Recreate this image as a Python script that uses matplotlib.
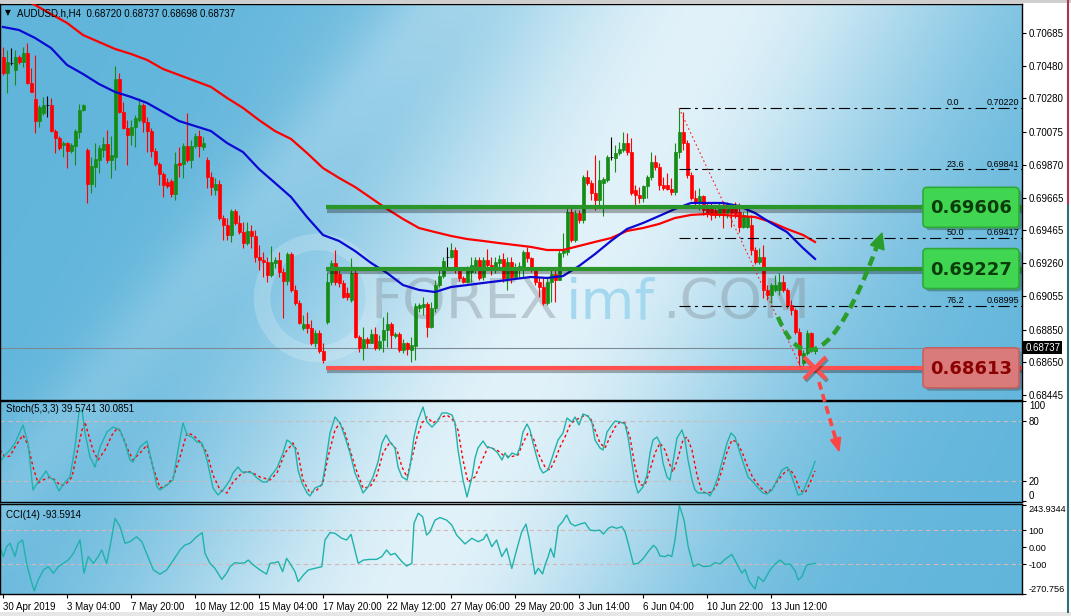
import numpy as np
import matplotlib
matplotlib.use('Agg')
import matplotlib.pyplot as plt
import matplotlib.patheffects as pe
from matplotlib.patches import FancyBboxPatch, Polygon, Rectangle, Circle, PathPatch
from matplotlib.path import Path

plt.rcParams['font.family'] = ['Liberation Sans', 'DejaVu Sans']

# ---- AUDUSD H4 candles, prices in points (1 point = 0.00001) ----
opens = [70536, 70437, 70499, 70456, 70536, 70505, 70561, 70375, 70276, 70140,
         70190, 70239, 70239, 70078, 70035, 69992, 70004, 69955, 69986, 70072,
         70208, 69961, 69750, 69856, 69899, 69961, 69998, 69899, 69918, 70400,
         70196, 70097, 70054, 70103, 70146, 70239, 70134, 70078, 69955, 69874,
         69812, 69763, 69769, 69688, 69880, 69874, 69986, 69899, 69986, 70047,
         69979, 69899, 69794, 69713, 69750, 69540, 69497, 69435, 69583, 69509,
         69453, 69385, 69460, 69429, 69299, 69280, 69268, 69188, 69262, 69280,
         69206, 69150, 69317, 69095, 69014, 68859, 68884, 68859, 68767, 68828,
         68717, 68896, 69144, 69262, 69194, 69138, 69076, 69033, 69200, 68804,
         68736, 68791, 68767, 68822, 68736, 68785, 68847, 68884, 68810, 68822,
         68723, 68767, 68723, 68748, 68983, 68989, 69008, 68866, 68983, 69125,
         69181, 69299, 69299, 69342, 69218, 69169, 69144, 69206, 69237, 69280,
         69175, 69280, 69249, 69237, 69262, 69287, 69169, 69268, 69175, 69231,
         69237, 69330, 69293, 69237, 69144, 69113, 69014, 69144, 69194, 69157,
         69324, 69330, 69577, 69404, 69571, 69528, 69794, 69757, 69695, 69651,
         69757, 69775, 69918, 69911, 69942, 69961, 70004, 69948, 69713, 69682,
         69664, 69738, 69794, 69887, 69856, 69744, 69744, 69719, 69701, 69948,
         70072, 70004, 69806, 69664, 69633, 69676, 69602, 69602, 69589, 69559,
         69602, 69571, 69602, 69608, 69577, 69484, 69484, 69497, 69342, 69268,
         69299, 69095, 69064, 69095, 69095, 69144, 69095, 69002, 68971, 68835,
         68643, 68705, 68828, 68720]
highs = [70598, 70580, 70592, 70580, 70549, 70598, 70623, 70468, 70549, 70239,
         70289, 70295, 70283, 70091, 70047, 70017, 70010, 70004, 70091, 70245,
         70245, 69973, 69918, 70004, 69992, 70041, 70085, 70047, 70481, 70437,
         70258, 70146, 70146, 70177, 70283, 70252, 70165, 70097, 69973, 69887,
         69825, 69787, 69781, 69948, 69979, 70004, 70190, 70023, 70066, 70085,
         70041, 69918, 69825, 69787, 69775, 69559, 69540, 69596, 69596, 69559,
         69515, 69515, 69497, 69466, 69373, 69330, 69299, 69367, 69299, 69330,
         69231, 69330, 69330, 69125, 69033, 68940, 68958, 68909, 68847, 68847,
         68767, 69200, 69280, 69342, 69231, 69157, 69113, 69293, 69218, 68816,
         68866, 68804, 68853, 68866, 68816, 68927, 68958, 68896, 68835, 68835,
         68791, 68773, 68804, 69014, 69014, 69051, 69020, 69020, 69157, 69237,
         69299, 69361, 69385, 69361, 69231, 69181, 69243, 69299, 69299, 69299,
         69299, 69348, 69299, 69299, 69311, 69324, 69299, 69299, 69262, 69268,
         69342, 69361, 69299, 69237, 69175, 69169, 69169, 69218, 69218, 69342,
         69447, 69602, 69602, 69589, 69589, 69806, 69837, 69775, 69930, 69899,
         69794, 69930, 70041, 69992, 70010, 70072, 70066, 70035, 69744, 69732,
         69744, 69806, 69948, 69930, 69880, 69794, 69818, 69787, 70004, 70220,
         70196, 70023, 69825, 69713, 69726, 69682, 69633, 69633, 69620, 69639,
         69639, 69639, 69620, 69639, 69633, 69577, 69602, 69559, 69361, 69355,
         69373, 69125, 69138, 69188, 69200, 69188, 69107, 69033, 68983, 68859,
         68723, 68847, 68835, 68737]
lows = [70425, 70314, 70487, 70363, 70493, 70474, 70369, 70320, 70066, 70103,
        70177, 70165, 70072, 69942, 69961, 69918, 69849, 69942, 69868, 70035,
        70202, 69633, 69695, 69732, 69818, 69918, 69880, 69787, 69837, 70190,
        70091, 69868, 69992, 69979, 70134, 70072, 69948, 69918, 69862, 69744,
        69670, 69726, 69670, 69651, 69794, 69787, 69887, 69849, 69973, 69918,
        69961, 69726, 69682, 69682, 69528, 69404, 69404, 69392, 69497, 69441,
        69355, 69373, 69355, 69268, 69218, 69175, 69144, 69175, 69231, 69175,
        68921, 69125, 69082, 69002, 68884, 68847, 68828, 68754, 68742, 68705,
        68643, 68884, 69125, 69125, 69113, 69045, 69033, 69020, 68797, 68711,
        68661, 68736, 68767, 68723, 68723, 68711, 68742, 68736, 68797, 68711,
        68705, 68692, 68649, 68661, 68958, 68940, 68804, 68859, 68958, 69113,
        69169, 69237, 69293, 69200, 69150, 69138, 69138, 69144, 69200, 69157,
        69157, 69237, 69188, 69200, 69218, 69144, 69095, 69138, 69175, 69175,
        69175, 69268, 69206, 69125, 69051, 69002, 69002, 69020, 69020, 69157,
        69299, 69311, 69392, 69392, 69509, 69509, 69744, 69651, 69589, 69608,
        69552, 69763, 69899, 69825, 69930, 69948, 69930, 69682, 69620, 69633,
        69639, 69664, 69775, 69837, 69713, 69713, 69713, 69682, 69682, 69911,
        69961, 69787, 69651, 69608, 69589, 69559, 69546, 69528, 69540, 69546,
        69478, 69540, 69484, 69540, 69453, 69478, 69478, 69311, 69256, 69256,
        69045, 69033, 69014, 69082, 69064, 69082, 68983, 68940, 68822, 68630,
        68613, 68692, 68711, 68698]
closes = [70437, 70505, 70499, 70536, 70505, 70561, 70375, 70320, 70140, 70227,
          70239, 70239, 70078, 70035, 69973, 70004, 69955, 69992, 70078, 70208,
          70239, 69750, 69862, 69905, 69973, 69998, 69899, 69930, 70400, 70196,
          70097, 70054, 70103, 70159, 70239, 70134, 70078, 69955, 69874, 69812,
          69744, 69738, 69688, 69874, 69868, 69986, 69899, 69986, 70047, 69986,
          70004, 69794, 69732, 69750, 69540, 69497, 69435, 69583, 69509, 69453,
          69385, 69460, 69429, 69299, 69280, 69268, 69188, 69268, 69280, 69206,
          69150, 69317, 69095, 69014, 68890, 68884, 68859, 68767, 68828, 68717,
          68661, 69144, 69262, 69144, 69138, 69051, 69051, 69200, 68804, 68736,
          68791, 68767, 68822, 68736, 68779, 68847, 68884, 68816, 68822, 68723,
          68767, 68729, 68754, 68996, 69002, 69008, 68866, 68983, 69125, 69181,
          69274, 69299, 69342, 69218, 69169, 69144, 69218, 69249, 69280, 69169,
          69280, 69249, 69237, 69268, 69287, 69169, 69268, 69175, 69231, 69243,
          69330, 69293, 69237, 69144, 69113, 69014, 69144, 69194, 69157, 69324,
          69342, 69577, 69404, 69571, 69528, 69794, 69757, 69695, 69651, 69775,
          69781, 69918, 69918, 69942, 69967, 70004, 69948, 69695, 69682, 69664,
          69738, 69794, 69887, 69856, 69744, 69726, 69719, 69701, 69948, 70072,
          70004, 69806, 69664, 69633, 69676, 69589, 69571, 69559, 69559, 69602,
          69571, 69602, 69571, 69565, 69484, 69559, 69552, 69342, 69268, 69299,
          69095, 69064, 69125, 69125, 69144, 69095, 69002, 68971, 68835, 68692,
          68705, 68828, 68723, 68737]

# moving averages read every 4 bars (points)
ma_bars = list(range(0, 201, 4)) + [203]
ma_blue = [70722, 70703, 70654, 70592, 70487, 70431, 70369, 70320, 70289, 70252,
           70196, 70140, 70109, 70078, 70004, 69948, 69843, 69757, 69670, 69546,
           69435, 69398, 69336, 69262, 69200, 69125, 69095, 69082, 69113, 69125,
           69138, 69150, 69163, 69175, 69169, 69181, 69243, 69317, 69398, 69472,
           69509, 69552, 69596, 69633, 69633, 69633, 69614, 69571, 69509, 69453,
           69354, 69287]
ma_red = [70963, 70908, 70858, 70802, 70747, 70672, 70629, 70586, 70555, 70518,
          70462, 70425, 70388, 70351, 70283, 70221, 70146, 70078, 70029, 69942,
          69849, 69788, 69732, 69664, 69596, 69534, 69478, 69453, 69429, 69410,
          69398, 69385, 69373, 69361, 69342, 69342, 69367, 69392, 69416, 69460,
          69478, 69503, 69540, 69559, 69565, 69559, 69552, 69546, 69515, 69472,
          69435, 69392]

# Stochastic (bar, value)
stoch_main = [(-0.75, 39), (0.5, 46), (1.75, 51), (3, 58), (5, 76), (6.25, 58), (7.5, 11), (8.75, 19),
              (9.75, 24), (10.75, 30), (11.75, 23), (12.75, 21), (14, 10), (15.5, 19), (16.75, 24),
              (18, 54), (19, 89), (19.75, 91), (20.5, 68), (21.75, 44), (23, 34), (24.25, 54), (26, 69),
              (27.5, 74), (29.25, 71), (30.5, 58), (31.75, 41), (32.5, 39), (34.25, 54), (36, 60),
              (37.25, 38), (38.5, 14), (39.25, 11), (41, 16), (42.5, 21), (43.75, 51), (45, 78), (46, 66),
              (47.25, 64), (48.5, 59), (49.75, 58), (51, 41), (52.5, 13), (53.75, 6), (55, 11),
              (56.75, 21), (57.5, 28), (58.75, 34), (59.75, 29), (61, 29), (62.25, 28), (63.5, 23),
              (65, 19), (66, 19), (66.75, 24), (68.5, 33), (70, 48), (71, 61), (71.75, 59), (73, 53),
              (73.75, 31), (74.75, 18), (76, 8), (76.75, 5), (78, 13), (79.75, 16), (80.5, 34),
              (81.75, 68), (83, 84), (84.25, 78), (85.5, 64), (86.75, 48), (88, 28), (89.25, 16), (90, 8),
              (91.25, 14), (92.5, 24), (93.75, 39), (94.75, 58), (95.75, 66), (96.75, 59), (98, 53),
              (98.75, 34), (99.75, 24), (101, 21), (101.75, 34), (102.75, 64), (103.75, 81), (105, 94),
              (106, 79), (107.25, 74), (108.5, 79), (109.75, 88), (111, 88), (112.25, 86), (113, 78),
              (113.75, 51), (115, 21), (116, 4), (117.25, 24), (118, 43), (118.75, 53), (120, 60),
              (121, 54), (122.25, 53), (123.5, 49), (124.75, 41), (125.5, 48), (126.25, 43),
              (127.25, 48), (128.5, 46), (129.25, 54), (130, 69), (131, 77), (131.75, 71), (132.5, 58),
              (133.5, 43), (134.25, 33), (135, 28), (136.25, 31), (137.5, 46), (138.75, 61), (140, 68),
              (141, 83), (142.25, 79), (143, 84), (144, 76), (145, 87), (146.25, 85), (147.25, 78),
              (148, 61), (149.25, 53), (150, 51), (151, 69), (152.25, 76), (153, 80), (154.25, 79),
              (155.5, 77), (156.25, 64), (157.25, 38), (158, 18), (158.75, 8), (160, 14), (161, 26),
              (161.75, 48), (162.5, 61), (163.5, 64), (164.25, 58), (165, 38), (166, 24), (166.75, 21),
              (167.5, 39), (168.5, 63), (169.75, 71), (170.5, 61), (171.25, 41), (172.25, 21), (173, 11),
              (173.75, 8), (175, 8), (176, 8), (176.75, 5), (177.5, 11), (178.75, 24), (180, 43),
              (181, 58), (182, 68), (183, 64), (184.25, 48), (185.5, 33), (186.25, 24), (187.5, 19),
              (188.75, 13), (190, 8), (191, 7), (192.25, 11), (193.5, 21), (194.75, 31), (196, 34),
              (196.75, 29), (197.5, 21), (198.75, 6), (199.75, 7), (201, 19), (202.25, 31), (203, 39.5741)]
stoch_signal = [(-0.75, 51), (0.5, 44), (1.75, 45), (3, 54), (5, 66), (6.25, 56), (7.5, 34), (8.75, 18),
                (10, 21), (11.75, 24), (13, 21), (14.25, 16), (15.5, 16), (17.25, 24), (18.5, 48),
                (19.75, 71), (20.5, 79), (21.25, 68), (22.5, 51), (23.75, 41), (25.5, 51), (27.5, 68),
                (28.75, 73), (30, 64), (31.25, 51), (32.5, 41), (34.25, 48), (36, 56), (37.5, 34),
                (39.25, 13), (41, 16), (42.5, 23), (44.25, 44), (46, 68), (47.5, 66), (49.25, 59),
                (51, 48), (52.5, 26), (54.25, 11), (56, 8), (57.5, 19), (59.25, 26), (61, 30), (62.5, 28),
                (64.25, 24), (66, 22), (66.75, 21), (68.5, 28), (70.5, 48), (72.5, 58), (73.75, 48),
                (75, 21), (76.75, 8), (78.5, 11), (80, 18), (81.25, 44), (83, 71), (84.25, 78), (85.5, 68),
                (86.75, 51), (88.5, 29), (90, 13), (91.75, 14), (93.5, 26), (95, 48), (96.75, 59),
                (98.5, 51), (99.75, 34), (101, 24), (102.25, 43), (103.5, 64), (104.75, 78), (106, 84),
                (107.5, 78), (109.25, 83), (111, 86), (112.5, 81), (113.75, 71), (115, 41), (116.25, 19),
                (118, 24), (119.25, 36), (121.25, 54), (123.5, 51), (125, 46), (126.75, 44), (128.75, 46),
                (130, 58), (131.25, 68), (132.5, 64), (133.75, 48), (135.5, 34), (136.75, 31), (138, 41),
                (139.25, 54), (140.5, 64), (141.75, 76), (143, 81), (144.25, 83), (145.5, 86),
                (146.75, 84), (148, 71), (149.25, 58), (150.5, 53), (151.75, 64), (153, 74), (154.25, 79),
                (155.5, 78), (156.75, 64), (158, 34), (159.25, 16), (160.5, 16), (161.75, 31), (163, 48),
                (164.25, 58), (165.5, 51), (166.75, 36), (167.5, 29), (168.75, 43), (170, 61), (171, 64),
                (172.25, 51), (173.5, 26), (174.75, 9), (176, 8), (177.25, 9), (178.5, 16), (179.75, 31),
                (181, 49), (182.25, 61), (183.5, 59), (184.75, 49), (186, 36), (187.5, 23), (189.25, 14),
                (191, 8), (192.5, 13), (193.75, 21), (195.5, 29), (196.75, 32), (198, 24), (199.25, 11),
                (200.5, 8), (201.75, 18), (202.75, 28), (203, 30.0851)]

# CCI(14) (bar, value)
cci = [(-0.75, 3), (0.1, -55), (0.9, 3), (1.75, 23), (3, -55), (3.8, 23), (4.9, 42), (5.9, -95),
       (6.75, -172), (7.8, -255), (8.8, -191), (10.1, -133), (11.3, -114), (12.6, -152), (13.8, -114),
       (15.1, -94), (16.3, -75), (17.6, -36), (19.25, 42), (20.25, -152), (21.3, -55), (22.6, -94),
       (23.8, -55), (24.7, -16), (25.9, -94), (26.75, 3), (28, 168), (29.25, 120), (30.5, 23),
       (31.75, 32), (33.4, 61), (34.7, 32), (35.9, -36), (37.6, -133), (39.25, -157), (40.9, -133),
       (42.6, -75), (44.25, -16), (45.5, 13), (46.75, 23), (48.4, 61), (49.8, 85), (50.5, -36),
       (51.75, -94), (53, -124), (54.7, -188), (55.9, -152), (56.75, -114), (58, -90), (59.25, -94),
       (60.5, -90), (61.3, -75), (62.6, -104), (64.25, -133), (65.9, -157), (66.75, -94), (68, -90),
       (68.8, -84), (69.9, -143), (70.9, -65), (71.75, -94), (73, -143), (73.8, -201), (75.1, -162),
       (76.3, -133), (78, -123), (79.7, -114), (80.5, 42), (81.75, 85), (83, 81), (84.7, 52),
       (85.9, 42), (87, 75), (88.8, -94), (90.1, -75), (91.75, -71), (93.4, -71), (94.7, -55),
       (95.9, -16), (96.9, -45), (98, -36), (99.7, -84), (100.9, -110), (102.2, -94), (102.75, 139),
       (103.8, 198), (104.9, 178), (105.9, 71), (106.75, 90), (108, 158), (109.25, 173), (110.9, 158),
       (112.2, 129), (113.4, 71), (115.5, 19), (117.2, 52), (118.8, 32), (120.1, 46), (120.9, 77),
       (122.2, 3), (123.4, 42), (124.7, -55), (125.9, -7), (127.2, -124), (128.4, -16), (129.7, 91),
       (130.75, 135), (131.6, 42), (133, -158), (133.8, -123), (134.9, -156), (135.5, -104),
       (136.3, -55), (136.9, -7), (137.75, -59), (138.8, 120), (139.9, 149), (140.9, 188),
       (141.9, 139), (143, 124), (144.25, 135), (145.5, 143), (146.75, 100), (148, 96), (149.1, 100),
       (150.1, 77), (151.3, 110), (152.2, 120), (153.4, 110), (154.7, 120), (155.5, 91), (156.3, 23),
       (157.6, -99), (158.8, -94), (160.1, -65), (161.3, -26), (162.6, 11), (163.4, -7),
       (164.25, -51), (165.5, -55), (166.3, -45), (167.2, -55), (168, 42), (169.1, 243.9),
       (170.25, 159), (171.3, 3), (172.6, -113), (173.8, -98), (175.1, -113), (176.75, -110),
       (178, -90), (179.25, -98), (180.5, -71), (182.2, -42), (183.4, -94), (184.7, -152),
       (185.5, -129), (186.6, -201), (188, -244), (188.8, -172), (190.1, -201), (191.75, -133),
       (193, -98), (194.25, -75), (195.5, -100), (196.75, -98), (198, -137), (198.8, -191),
       (199.7, -172), (200.9, -104), (202.2, -98), (203, -93.5914)]

green_levels = [0.69606, 0.69227]
red_level = 0.68613
fib_pct = ['0.0', '23.6', '50.0', '76.2']
fib_price = [0.70220, 0.69841, 0.69417, 0.68995]
last_price = 0.68737
price_ticks = [0.70685, 0.70480, 0.70280, 0.70075, 0.69870, 0.69665,
               0.69465, 0.69260, 0.69055, 0.68850, 0.68650, 0.68445]
date_bars = [0, 16, 32, 48, 64, 80, 96, 112, 128, 144, 160, 176, 192]
date_labels = ['30 Apr 2019', '3 May 04:00', '7 May 20:00', '10 May 12:00', '15 May 04:00',
               '17 May 20:00', '22 May 12:00', '27 May 06:00', '29 May 20:00', '3 Jun 14:00',
               '6 Jun 04:00', '10 Jun 22:00', '13 Jun 12:00']

o = np.array(opens) / 1e5
h = np.array(highs) / 1e5
l = np.array(lows) / 1e5
c = np.array(closes) / 1e5
bars = np.arange(len(o))

W, H = 1071, 616
fig = plt.figure(figsize=(W / 100, H / 100), dpi=100)
fig.patch.set_facecolor('white')


def rect(x0, y0, x1, y1):
    return [x0 / W, 1 - y1 / H, (x1 - x0) / W, (y1 - y0) / H]


XL = (-0.75, 254.75)
TEAL = '#20b2aa'

# background picture behind all panels
bg = fig.add_axes(rect(0, 4, 1022, 594))
gy, gx = np.mgrid[0:1:240j, 0:1:480j]
t = 0.9 * np.exp(-((gx - (0.70 - 0.30 * gy)) / 0.26) ** 2)
t += 0.15 * np.exp(-((gx + 0.5 * gy - 0.42) / 0.05) ** 2)
t = np.clip(t, 0, 0.95)[..., None]
img = np.array([0.38, 0.71, 0.86]) * (1 - t) + np.array([0.94, 0.975, 0.99]) * t
bg.imshow(img, extent=(0, 1022, 594, 4), aspect='auto', interpolation='bilinear')
bg.set_xlim(0, 1022)
bg.set_ylim(594, 4)
bg.axis('off')
bg.add_patch(Circle((318, 298), 56, fill=False, lw=12, ec='white', alpha=0.2))
bg.text(370, 303, 'FOREX', fontsize=40, color='#7d8a94', alpha=0.38, va='center', family='DejaVu Sans')
bg.text(566, 303, 'imf', fontsize=40, color='#9fd6ef', alpha=0.9, va='center', family='DejaVu Sans')
bg.text(662, 303, '.COM', fontsize=40, color='#7d8a94', alpha=0.38, va='center', family='DejaVu Sans')

# ---- main price panel ----
ax = fig.add_axes(rect(0, 4, 1022, 400))
ax.patch.set_alpha(0)
col = np.where(c > o, '#168c16', np.where(c < o, '#ff0000', '#000000'))
ax.vlines(bars, l, h, colors=col, lw=0.8, zorder=3)
ax.bar(bars, c - o, bottom=o, width=0.75, color=col, edgecolor=col, linewidth=0.5, zorder=4)
ax.plot(ma_bars, np.array(ma_red) / 1e5, color='#ff0000', lw=1.6, zorder=5)
ax.plot(ma_bars, np.array(ma_blue) / 1e5, color='#0a0ad2', lw=1.6, zorder=5)

shadow = [pe.SimpleLineShadow(offset=(0.5, -2.5), alpha=0.3, shadow_color='k'), pe.Normal()]
for lv in green_levels:
    ax.hlines(lv, 80.75, XL[1], colors='#2a962a', lw=3, zorder=6, path_effects=shadow)
ax.hlines(red_level, 80.75, XL[1], colors='#ff4f4f', lw=3, zorder=6, path_effects=shadow)

for pct, fp in zip(fib_pct, fib_price):
    ax.hlines(fp, 169, XL[1], colors='k', lw=0.8, linestyles=(0, (10, 4, 2.5, 4)), zorder=6)
    ax.text(236, fp + 0.00004, pct, fontsize=6.5, ha='left', va='bottom', zorder=7)
    ax.text(254, fp + 0.00004, f'{fp:.5f}', fontsize=6.5, ha='right', va='bottom', zorder=7)
ax.plot([169, 199.5], [fib_price[0], red_level], color='#ff2020', lw=0.8, ls=(0, (1.5, 2.5)), zorder=6)
ax.axhline(last_price, color='#7c8a98', lw=0.8, zorder=2)

ax.set_xlim(*XL)
ax.set_ylim(0.68414, 0.70864)
ax.yaxis.tick_right()
ax.set_yticks(price_ticks)
ax.set_yticklabels([f'{p:.5f}' for p in price_ticks])
ax.tick_params(axis='y', labelsize=7, length=3, width=0.8, pad=2)
ax.tick_params(axis='x', bottom=False, labelbottom=False)

# ---- stochastic panel ----
ax2 = fig.add_axes(rect(0, 401, 1022, 502))
ax2.patch.set_alpha(0)
kb, kv = np.array(stoch_main).T
db, dv = np.array(stoch_signal).T
for g in (80, 20):
    ax2.axhline(g, color='#c8bcbc', lw=0.8, ls=(0, (4, 3)))
ax2.plot(db, dv, color='#ff0000', lw=1, ls=(0, (2, 2)))
ax2.plot(kb, kv, color=TEAL, lw=1)
ax2.set_xlim(*XL)
ax2.set_ylim(-1, 100)
ax2.yaxis.tick_right()
ax2.set_yticks([100, 80, 20, 0])
ax2.set_yticklabels(['100', '80', '20', '0'])
ax2.tick_params(axis='y', labelsize=7, length=3, width=0.8, pad=2)
ax2.tick_params(axis='x', bottom=False, labelbottom=False)
labs = ax2.get_yticklabels()
labs[0].set_va('top')
labs[-1].set_va('bottom')

# ---- CCI panel ----
ax3 = fig.add_axes(rect(0, 504, 1022, 594))
ax3.patch.set_alpha(0)
cb, cv = np.array(cci).T
for g in (100, -100):
    ax3.axhline(g, color='#d4b8b8', lw=0.8, ls=(0, (4, 3)))
ax3.plot(cb, cv, color=TEAL, lw=1)
ax3.set_xlim(*XL)
ax3.set_ylim(-273, 252)
ax3.yaxis.tick_right()
ax3.set_yticks([243.9344, 100, 0, -100, -270.756])
ax3.set_yticklabels(['243.9344', '100', '0.00', '-100', '-270.756'])
ax3.tick_params(axis='y', labelsize=6.6, length=3, width=0.8, pad=1.5)
labs = ax3.get_yticklabels()
labs[0].set_va('top')
labs[-1].set_va('bottom')
ax3.set_xticks(date_bars)
ax3.set_xticklabels(date_labels, ha='left', fontsize=7)
ax3.tick_params(axis='x', length=3, width=0.8, pad=3)

for a in (ax, ax2, ax3):
    for s in a.spines.values():
        s.set_color('black')
        s.set_linewidth(1)

# ---- overlay in pixel coordinates for drawn objects ----
ov = fig.add_axes([0, 0, 1, 1])
ov.set_xlim(0, W)
ov.set_ylim(H, 0)
ov.axis('off')


def price_px(p):
    return H - ax.transData.transform((0, p))[1]


box_fx = [pe.SimplePatchShadow(offset=(2, -2), alpha=0.35), pe.Normal()]
for lv, fc, ec, tc in [(green_levels[0], '#41d651', '#2fa83a', '#0b3d0b'),
                       (green_levels[1], '#41d651', '#2fa83a', '#0b3d0b'),
                       (red_level, '#d97b7b', '#c86060', '#8b0000')]:
    yp = price_px(lv)
    ov.add_patch(FancyBboxPatch((923, yp - 20), 96, 40, boxstyle='round,pad=0,rounding_size=4',
                                fc=fc, ec=ec, lw=1.2, path_effects=box_fx, zorder=5))
    ov.text(971, yp + 1, f'{lv:.5f}', ha='center', va='center', fontsize=13,
            fontweight='bold', color=tc, family='DejaVu Sans', zorder=6)

# current price tag
yp = price_px(last_price)
ov.add_patch(Rectangle((1023, yp - 6.5), 39, 13, fc='black', ec='none'))
ov.text(1026, yp, f'{last_price:.5f}', color='white', fontsize=7, va='center', ha='left')

# green dashed forecast curve with head
verts = [(778, 317), (800, 370), (832, 368), (877, 246)]
codes = [Path.MOVETO, Path.CURVE4, Path.CURVE4, Path.CURVE4]
ov.add_patch(PathPatch(Path(verts, codes), fill=False, ec='#2a9d2a', lw=3.2,
                       ls=(0, (2.2, 1.3)), zorder=7))
ov.add_patch(Polygon([(882, 233), (870.5, 245), (884, 250)], closed=True, fc='#2a9d2a',
                     ec='#2a9d2a', zorder=7))

# red cross and dashed arrow down
xfx = [pe.SimpleLineShadow(offset=(1, -1.5), alpha=0.3), pe.Normal()]
ov.plot([804, 826], [357, 379], color='#ff4f4f', lw=3, solid_capstyle='butt', path_effects=xfx, zorder=8)
ov.plot([804, 826], [379, 357], color='#ff4f4f', lw=3, solid_capstyle='butt', path_effects=xfx, zorder=8)
ov.plot([819, 836], [382, 440], color='#ff4444', lw=2.6, ls=(0, (2.2, 1.3)), zorder=8)
ov.add_patch(Polygon([(839, 451), (840.6, 437), (830.6, 440)], closed=True, fc='#ff4444',
                     ec='#ff4444', zorder=8))

# window decorations and labels
ov.add_patch(Rectangle((0, 0), W, 3, fc='#cfcfcf', ec='none'))
ov.add_patch(Rectangle((0, 612), W, 4, fc='#e6e6e6', ec='none'))
ov.plot([1068, 1068], [0, 205], color='#b03050', lw=1.5)
ov.plot([1068, 1068], [205, 612], color='#2f6f78', lw=1.5)
ov.text(5, 13, '\u25bc', fontsize=5.5, va='center', family='DejaVu Sans')
ov.text(17, 13, 'AUDUSD.h,H4  0.68720 0.68737 0.68698 0.68737', fontsize=7, va='center')
ov.text(6, 409, 'Stoch(5,3,3) 39.5741 30.0851', fontsize=7, va='center')
ov.text(6, 515, 'CCI(14) -93.5914', fontsize=7, va='center')

fig.savefig('out.png', dpi=100)
